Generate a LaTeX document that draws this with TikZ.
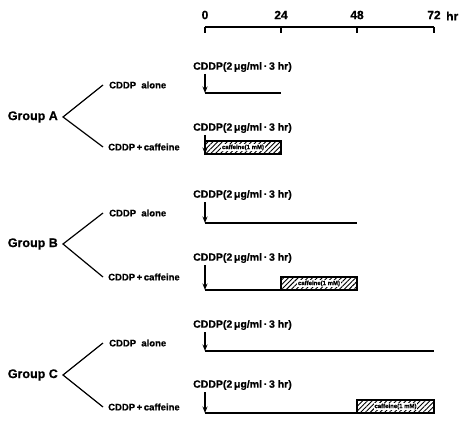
\documentclass[tikz,border=0pt]{standalone}
\usepackage{fontspec}
\setmainfont{Liberation Sans}[BoldFeatures={FakeBold=0.6}]
\usetikzlibrary{patterns.meta,arrows.meta,calc}
\begin{document}
\begin{tikzpicture}[x=1pt,y=-1pt,
  tl/.style={line width=1.5pt},
  arr/.style={line width=1.1pt,-{Stealth[length=6.5pt,width=5pt]}},
  axl/.style={font=\fontsize{12}{14}\selectfont\bfseries, inner sep=0},
  grp/.style={font=\fontsize{12.5}{14}\selectfont\bfseries, anchor=east, inner sep=0},
  br/.style={font=\fontsize{9.5}{11}\selectfont\bfseries, anchor=west, inner sep=0},
  dose/.style={font=\fontsize{10.5}{12}\selectfont\bfseries, anchor=west, inner sep=0},
  brl/.style={line width=1.2pt},
  cafbox/.style={draw, line width=1.1pt, pattern={Lines[angle=45,distance=3.4pt,line width=0.9pt]}},
  caflab/.style={fill=white, inner sep=0.8pt, font=\fontsize{6}{7}\selectfont\bfseries}
]
\useasboundingbox (0,0) rectangle (462,422);

% time axis
\coordinate (x0) at (205,27);
\coordinate (x24) at (281,27);
\coordinate (x48) at (357,27);
\coordinate (x72) at (434,27);
\draw[tl] (x0) -- (x72);
\foreach \c in {x0,x24,x48,x72} \draw[line width=1.1pt] (\c) -- ++(0,6);
\node[axl] (l0) at (205,15) {0};
\node[axl] (l24) at (281,15) {24};
\node[axl] (l48) at (357,15) {48};
\node[axl] (l72) at (434,15) {72};
\node[axl, anchor=west] (lhr) at (446,16) {hr};

% groups and branches
\foreach \g/\yg/\ya/\yc in {A/117/85/147, B/244/213/277, C/375/343/407}{
  \node[grp] (g\g) at (58,\yg) {Group \g};
  \coordinate (v\g) at (63,\yg);
  \node[br] (al\g) at (109,\ya) {CDDP\ \ alone};
  \node[br] (ca\g) at (108,\yc) {CDDP\,+\,caffeine};
  \coordinate (ea\g) at (103,\ya);
  \coordinate (ec\g) at (103,\yc);
  \draw[brl] (ea\g) -- (v\g) -- (ec\g);
}

% caffeine boxes
\foreach \n/\xa/\xb/\yl in {A/205/281/154, B/281/357/290, C/357/434/413}{
  \coordinate (bl\n) at (\xa,\yl-13);
  \coordinate (br\n) at (\xb,\yl);
  \draw[cafbox] (bl\n) rectangle (br\n);
  \node[caflab] (cl\n) at ($(bl\n)!0.5!(br\n)$) {caffeine(1 mM)};
}

% timelines
\foreach \n/\yt/\yl/\xe in {a/67/93/281, b/128/154/281, c/195/223/357, d/258/290/357, e/325/351/434, f/385/413/434}{
  \node[dose] (d\n) at (193,\yt) {CDDP(2\,μg/ml\,·\,3 hr)};
  \coordinate (s\n) at (205,\yt+7);
  \coordinate (e\n) at (205,\yl);
  \coordinate (f\n) at (\xe,\yl);
  \draw[arr] (s\n) -- (e\n);
  \draw[tl] (e\n) -- (f\n);
}
\end{tikzpicture}
\end{document}
